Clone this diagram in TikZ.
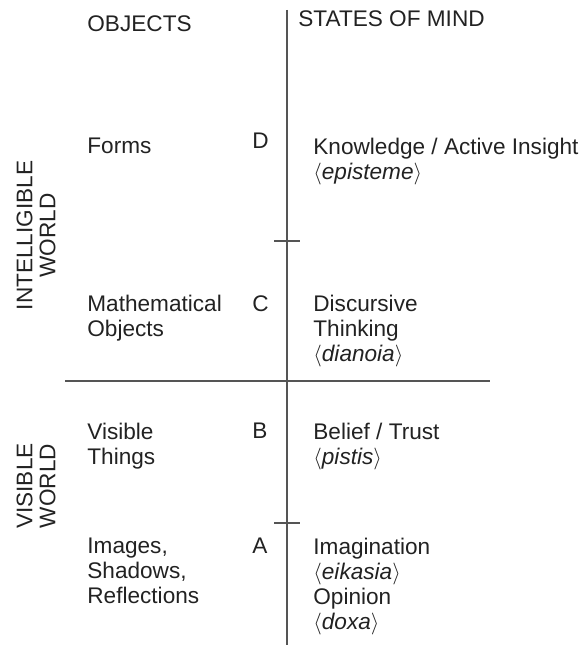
\documentclass[tikz,border=0pt]{standalone}
\usepackage{fontspec}
\setmainfont{Liberation Sans}
\usetikzlibrary{positioning}
\definecolor{inkgray}{HTML}{222222}
\definecolor{rulegray}{HTML}{555555}
\newcommand{\grk}[1]{$\langle$\textit{#1}$\rangle$}

\begin{document}
\begin{tikzpicture}[
    x=0.5pt, y=-0.5pt,
    every node/.style={inner sep=0pt, text=inkgray, font=\fontsize{11.3}{12.5}\selectfont},
    eintrag/.style={anchor=north west, align=left},
    welt/.style={rotate=90, align=center},
    linie/.style={draw=rulegray, line width=0.7pt}
    ]
\useasboundingbox (0,0) rectangle (580,646);

%column heads
\node[eintrag] (objects) at (87,15) {OBJECTS};
\node[eintrag] (states) at (298,10) {STATES OF MIND};

%Upper part, intelligible world
\node[eintrag] (forms) at (87,138) {Forms};
\node[eintrag] (d) at (252,133) {D};
\node[eintrag] (knowledge) at (313,138) {Knowledge / Active Insight\\\grk{episteme}};
\node[eintrag] (math) at (87,295) {Mathematical\\Objects};
\node[eintrag] (c) at (252,295) {C};
\node[eintrag] (discursive) at (313,295) {Discursive\\Thinking\\\grk{dianoia}};

%Lower part, visible world
\node[eintrag] (visible) at (87,423) {Visible\\Things};
\node[eintrag] (b) at (252,423) {B};
\node[eintrag] (belief) at (313,423) {Belief / Trust\\\grk{pistis}};
\node[eintrag] (images) at (87,538) {Images,\\Shadows,\\Reflections};
\node[eintrag] (a) at (252,538) {A};
\node[eintrag] (imagination) at (313,538) {Imagination\\\grk{eikasia}\\Opinion\\\grk{doxa}};

%side labels
\node[welt] (intelligible) at (36,235.5) {INTELLIGIBLE\\[-1pt]WORLD};
\node[welt] (visibleworld) at (36,486) {VISIBLE\\[-1pt]WORLD};

%dividing lines
\coordinate (top) at (287,10);
\coordinate (bottom) at (287,645);
\coordinate (left) at (65,381);
\coordinate (right) at (490,381);
\coordinate (cut1) at (287,241);
\coordinate (cut2) at (287,523);
\draw[linie] (top) -- (bottom);
\draw[linie] (left) -- (right);
\draw[linie] ([xshift=-6.5pt]cut1) -- ([xshift=6.5pt]cut1);
\draw[linie] ([xshift=-6.5pt]cut2) -- ([xshift=6.5pt]cut2);
\end{tikzpicture}
\end{document}
